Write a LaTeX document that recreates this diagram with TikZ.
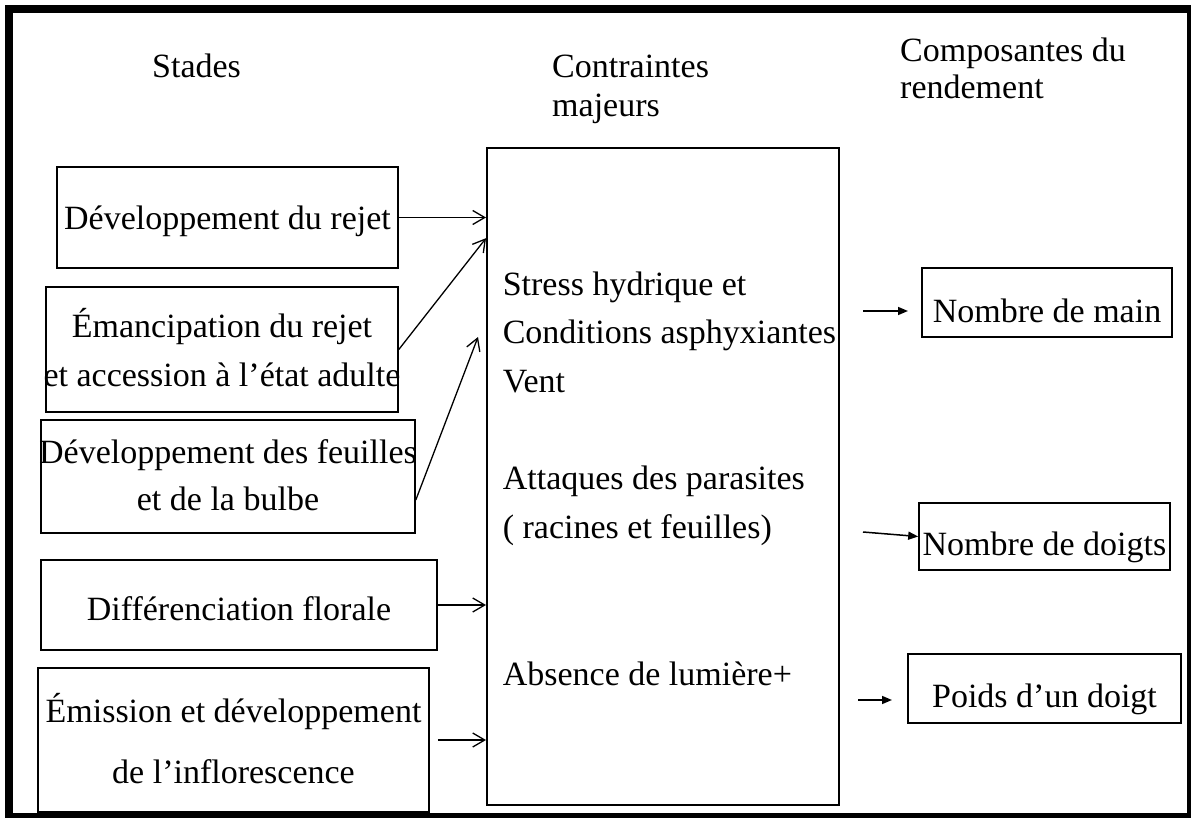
\documentclass[tikz,border=0pt]{standalone}
\usepackage{fontspec}
\setmainfont{Liberation Serif}
\usetikzlibrary{arrows.meta}

% stacked lines with a fixed baseline distance; the box baseline is that of the first line
\newcommand\cstack[2]{\hbox to 0pt{\hss\vtop{\baselineskip=#1\lineskiplimit=-\maxdimen\halign{\hfil##\hfil\cr#2\crcr}}\hss}}
\newcommand\lstack[2]{\vtop{\baselineskip=#1\lineskiplimit=-\maxdimen\halign{##\hfil\cr#2\crcr}}}

\begin{document}
\begin{tikzpicture}[x=1pt,y=-1pt,
  txt/.style={inner sep=0pt, font=\fontsize{34}{40}\selectfont},
  stagebox/.style={txt, draw, line width=1.6pt, anchor=base},
  head/.style={txt, anchor=base west},
  flow/.style={line width=1.3pt, -{Straight Barb[length=12pt,width=14pt]}},
  yieldarrow/.style={line width=1.5pt, -{Triangle[length=10pt,width=8pt]}}]
\useasboundingbox (0,0) rectangle (1191,818);

% column headings
\node[head] (h1) at (152,78) {Stades};
\node[head] (h2) at (552,78) {\lstack{38.5pt}{Contraintes\cr majeurs}};
\node[head] (h3) at (900,62) {\lstack{37pt}{Composantes du\cr rendement}};

% growth stages
\node[stagebox, minimum width=341pt, text height=63pt, text depth=38pt] (s1) at (227.5,230)
  {\cstack{40pt}{Développement du rejet}};
\node[stagebox, minimum width=352pt, text height=50pt, text depth=75pt] (s2) at (222,337)
  {\cstack{50pt}{Émancipation du rejet\cr et accession à l’état adulte}};
\node[stagebox, minimum width=374pt, text height=43pt, text depth=70pt] (s3) at (228,463)
  {\cstack{47pt}{Développement des feuilles\cr et de la bulbe}};
\node[stagebox, minimum width=396pt, text height=60pt, text depth=30pt] (s4) at (239,620)
  {\cstack{40pt}{Différenciation florale}};
\node[stagebox, minimum width=391pt, text height=54pt, text depth=90pt] (s5) at (233.5,722)
  {\cstack{61pt}{Émission et développement\cr de l’inflorescence}};

% major constraints
\node[txt, draw, line width=1.6pt, anchor=base west, text height=147pt, text depth=510pt] (cb) at (486,295)
  {\hbox to 352pt{\hskip16pt\lstack{48.75pt}{Stress hydrique et\cr Conditions asphyxiantes\cr Vent\cr
   \cr Attaques des parasites\cr ( racines et feuilles)\cr \cr \cr Absence de lumière+}\hss}};

% yield components
\node[stagebox, minimum width=250pt, text height=55pt, text depth=14pt] (r1) at (1047,323)
  {\cstack{40pt}{Nombre de main}};
\node[stagebox, minimum width=251pt, text height=52pt, text depth=15pt] (r2) at (1044.5,555)
  {\cstack{40pt}{Nombre de doigts}};
\node[stagebox, minimum width=273pt, text height=53pt, text depth=16pt] (r3) at (1044.5,707)
  {\cstack{40pt}{Poids d’un doigt}};

% stages to constraints
\coordinate (t3) at (478,337);
\draw[flow] (s1.east) -- (s1.east -| cb.west);
\draw[flow] (s2.east) -- ([yshift=-91pt]cb.north west);
\draw[flow] ([yshift=-23.5pt]s3.east) -- (t3);
\draw[flow] (s4.east) -- (s4.east -| cb.west);
\draw[flow] ([xshift=8pt]s5.east) -- (s5.east -| cb.west);

% constraints to yield components
\coordinate (k1) at (863,311);
\coordinate (k1e) at (908,311);
\coordinate (k2) at (863,532);
\coordinate (k3) at (858,700);
\coordinate (k3e) at (892,700);
\draw[yieldarrow] (k1) -- (k1e);
\draw[yieldarrow] (k2) -- (r2.west);
\draw[yieldarrow] (k3) -- (k3e);

% outer frame
\draw[line width=8pt] (9,9) rectangle (1191,817);
\end{tikzpicture}
\end{document}
